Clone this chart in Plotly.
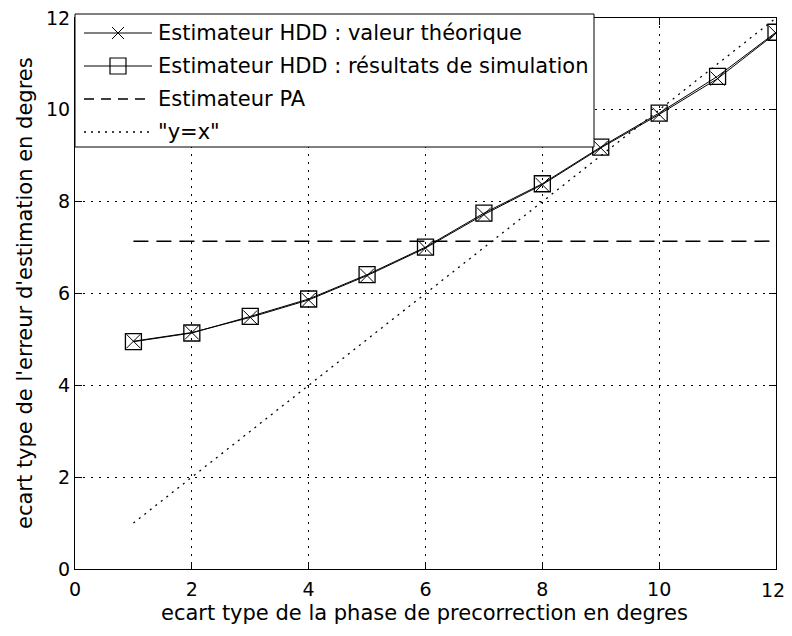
import plotly.graph_objects as go

# ---- data ----
x_vals = [1, 2, 3, 4, 5, 6, 7, 8, 9, 10, 11, 12]
hdd_theo = [4.96, 5.15, 5.48, 5.86, 6.39, 6.99, 7.72, 8.37, 9.17, 9.90, 10.68, 11.67]
hdd_sim = [4.95, 5.14, 5.50, 5.88, 6.41, 7.01, 7.75, 8.39, 9.19, 9.93, 10.73, 11.69]
pa_x = [1, 12]
pa_y = [7.14, 7.14]
yx_x = [1, 12]
yx_y = [1, 12]
tick_vals = [0, 2, 4, 6, 8, 10, 12]
tick_text = ["0", "2", "4", "6", "8", "10", "12"]
legend_labels = [
    "Estimateur HDD : valeur théorique",
    "Estimateur HDD : résultats de simulation",
    "Estimateur PA",
    '"y=x"',
]
x_title = "ecart type de la phase de precorrection en degres"
y_title = "ecart type de l'erreur d'estimation en degres"

FONT = "DejaVu Sans"
OFF = 8  # default page body margin
W, H = 792 - OFF, 636 - 2 * OFF
L, T = 75 - OFF, 18 - OFF
R = W - (776 - OFF)
B = H - (569 - OFF)
PW = W - L - R
PH = H - T - B


def px(xp):
    return (xp - OFF - L) / PW


def py(yp):
    return (H - B - (yp - OFF)) / PH


fig = go.Figure()
fig.add_trace(go.Scatter(x=yx_x, y=yx_y, mode="lines",
                         line=dict(color="black", width=1.3, dash="2px,5px"),
                         showlegend=False))
fig.add_trace(go.Scatter(x=pa_x, y=pa_y, mode="lines",
                         line=dict(color="black", width=1.5, dash="15px,8px"),
                         showlegend=False))
fig.add_trace(go.Scatter(x=x_vals, y=hdd_theo, mode="lines+markers",
                         line=dict(color="black", width=1),
                         marker=dict(symbol="x-thin-open", size=14,
                                     line=dict(color="black", width=1)),
                         showlegend=False))
fig.add_trace(go.Scatter(x=x_vals, y=hdd_sim, mode="lines+markers",
                         line=dict(color="black", width=1),
                         marker=dict(symbol="square-open", size=16, color="black",
                                     line=dict(color="black", width=1.3)),
                         showlegend=False))

axis_common = dict(
    range=[0, 12], tickvals=tick_vals, automargin=False,
    showline=True, linecolor="black", linewidth=1, mirror="ticks",
    ticks="inside", ticklen=7, tickcolor="black", tickwidth=1,
    showgrid=True, gridcolor="black", gridwidth=1, griddash="2px,6px",
    zeroline=False, tickfont=dict(family=FONT, size=19, color="black"),
    ticklabeloverflow="allow",
)

# last x tick label is placed as an annotation so it stays inside the page
x_tick_text = tick_text[:-1] + [""]

fig.update_layout(
    template="none",
    width=W, height=H,
    margin=dict(l=L, r=R, t=T, b=B, pad=0, autoexpand=False),
    paper_bgcolor="white", plot_bgcolor="white",
    xaxis=dict(**axis_common, ticktext=x_tick_text, ticklabelstandoff=3),
    yaxis=dict(**axis_common, ticktext=tick_text, ticklabelstandoff=0),
    showlegend=False,
)

# ---- manual legend (MATLAB style) ----
shapes = []
annots = []
bx0, bx1, by0, by1 = 75, 594, 14, 147
shapes.append(dict(type="rect", xref="paper", yref="paper",
                   x0=px(bx0), x1=px(bx1), y0=py(by1), y1=py(by0),
                   line=dict(color="black", width=1), fillcolor="white", layer="above"))
rows = [33, 66, 99, 132]
lx0, lx1, mx, tx = 84, 152, 118, 156
styles = [dict(dash="solid", width=1), dict(dash="solid", width=1),
          dict(dash="10px,7px", width=1.3), dict(dash="2px,5px", width=1.3)]
for i, (ry, lab) in enumerate(zip(rows, legend_labels)):
    shapes.append(dict(type="line", xref="paper", yref="paper",
                       x0=px(lx0), x1=px(lx1), y0=py(ry), y1=py(ry),
                       line=dict(color="black", width=styles[i]["width"], dash=styles[i]["dash"]),
                       layer="above"))
    annots.append(dict(xref="paper", yref="paper", x=px(tx), y=py(ry),
                       xanchor="left", yanchor="middle", showarrow=False,
                       text=lab, font=dict(family=FONT, size=21, color="black")))
# legend markers
r0 = rows[0]
for d in (-6, 6):
    shapes.append(dict(type="line", xref="paper", yref="paper",
                       x0=px(mx - 6), x1=px(mx + 6), y0=py(r0 - d), y1=py(r0 + d),
                       line=dict(color="black", width=1), layer="above"))
r1 = rows[1]
shapes.append(dict(type="rect", xref="paper", yref="paper",
                   x0=px(mx - 8), x1=px(mx + 8), y0=py(r1 + 8), y1=py(r1 - 8),
                   line=dict(color="black", width=1.2), fillcolor="rgba(0,0,0,0)", layer="above"))

# last x tick label
annots.append(dict(xref="paper", yref="paper", x=px(787), y=py(590),
                   xanchor="right", yanchor="middle", showarrow=False,
                   text=tick_text[-1], font=dict(family=FONT, size=19, color="black")))
# axis titles
annots.append(dict(xref="paper", yref="paper", x=px(424), y=py(613),
                   xanchor="center", yanchor="middle", showarrow=False,
                   text=x_title, font=dict(family=FONT, size=21, color="black")))
annots.append(dict(xref="paper", yref="paper", x=px(25), y=py(293),
                   xanchor="center", yanchor="middle", showarrow=False, textangle=-90,
                   text=y_title, font=dict(family=FONT, size=21, color="black")))

fig.update_layout(shapes=shapes, annotations=annots)
fig.write_html("out.html")
